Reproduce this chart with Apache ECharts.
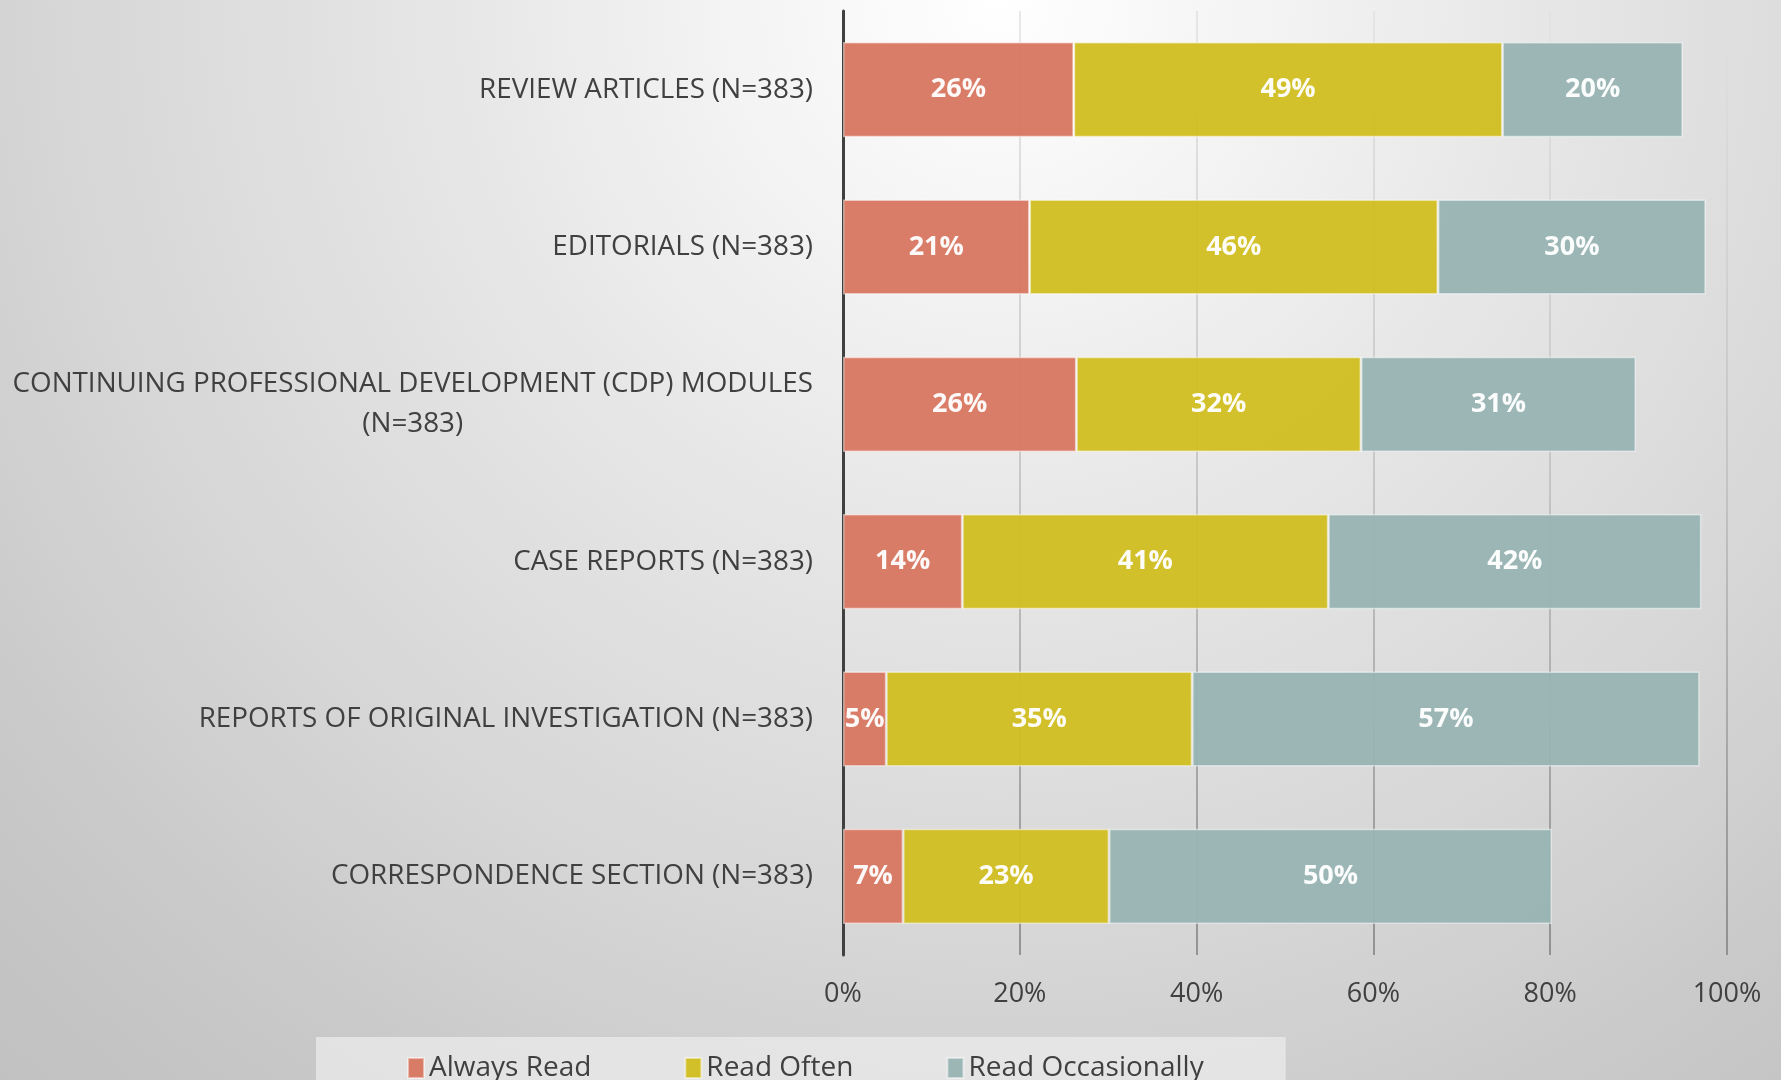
<!DOCTYPE html>
<html>
<head>
<meta charset="utf-8">
<script src="https://cdn.jsdelivr.net/npm/echarts@6/dist/echarts.min.js"></script>
<style>
  html, body { margin: 0; padding: 0; }
  #chart {
    width: 1781px; height: 1080px;
    background: radial-gradient(circle at 56% 0%, #ffffff 0px, #f2f2f2 300px, #e6e6e6 560px, #d6d6d6 950px, #c8c8c8 1250px, #c0c0c0 1500px);
  }
</style>
</head>
<body>
<div id="chart"></div>
<script>
// categories (top to bottom)
const categories = [
  'REVIEW ARTICLES (N=383)',
  'EDITORIALS (N=383)',
  'CONTINUING PROFESSIONAL DEVELOPMENT (CDP) MODULES\n(N=383)',
  'CASE REPORTS (N=383)',
  'REPORTS OF ORIGINAL INVESTIGATION (N=383)',
  'CORRESPONDENCE SECTION (N=383)'
];
const seriesNames = ['Always Read', 'Read Often', 'Read Occasionally'];
const alwaysRead = [26.1, 21.1, 26.4, 13.5, 4.9, 6.8];
const readOften = [48.5, 46.2, 32.2, 41.4, 34.6, 23.3];
const readOccasionally = [20.4, 30.3, 31.1, 42.2, 57.4, 50.1];
const xTicks = [0, 20, 40, 60, 80, 100];

const labelFont = '27.8px "Open Sans"';
// width of first line of the two-line label, so the block stays right-aligned with centred lines
const ctx = document.createElement('canvas').getContext('2d');
ctx.font = labelFont;

const yData = categories.map(c => {
  if (c.indexOf('\n') < 0) return c;
  const w = ctx.measureText(c.split('\n')[0]).width;
  return { value: c, textStyle: { align: 'center', padding: [0, w, 0, 0] } };
});

const myChart = echarts.init(document.getElementById('chart'));

const colors = ['#d97862', '#d1be22', '#99b4b4'];
const values = [alwaysRead, readOften, readOccasionally];

myChart.setOption({
  color: colors,
  backgroundColor: 'transparent',
  animation: false,
  grid: { left: 843, right: 54, top: 11, bottom: 125 },
  legend: {
    data: seriesNames,
    left: 316,
    top: 1037,
    padding: [17, 82, 20, 91],
    backgroundColor: 'rgba(235,235,235,0.75)',
    itemWidth: 16,
    itemHeight: 20,
    itemGap: 93,
    icon: 'rect',
    textStyle: { fontFamily: 'Open Sans', fontSize: 28, color: '#404040' }
  },
  xAxis: {
    type: 'value',
    min: xTicks[0],
    max: xTicks[xTicks.length - 1],
    interval: 20,
    axisLine: { show: false },
    axisTick: { show: false },
    axisLabel: {
      formatter: '{value}%',
      color: '#404040',
      fontFamily: 'Open Sans',
      fontSize: 27,
      margin: 26
    },
    splitLine: {
      lineStyle: {
        width: 1.5,
        color: new echarts.graphic.LinearGradient(0, 0, 0, 955, [
          { offset: 0, color: '#e2e2e2' },
          { offset: 0.5, color: '#bdbdbd' },
          { offset: 1, color: '#7d7d7d' }
        ], true)
      }
    }
  },
  yAxis: {
    type: 'category',
    inverse: true,
    data: yData,
    axisLine: { lineStyle: { color: '#404040', width: 3 } },
    axisTick: { show: false },
    axisLabel: {
      color: '#404040',
      fontFamily: 'Open Sans',
      fontSize: 27.8,
      lineHeight: 40,
      margin: 30
    }
  },
  series: seriesNames.map((name, i) => ({
    name: name,
    type: 'bar',
    stack: 'total',
    barCategoryGap: '39.5%',
    itemStyle: {
      opacity: 0.96,
      borderColor: 'rgba(255,255,255,0.5)',
      borderWidth: 1.5
    },
    label: {
      show: true,
      position: 'inside',
      color: '#ffffff',
      fontFamily: 'Open Sans',
      fontWeight: 'bold',
      fontSize: 27,
      formatter: p => Math.round(p.value) + '%'
    },
    data: values[i]
  }))
});
</script>
</body>
</html>
